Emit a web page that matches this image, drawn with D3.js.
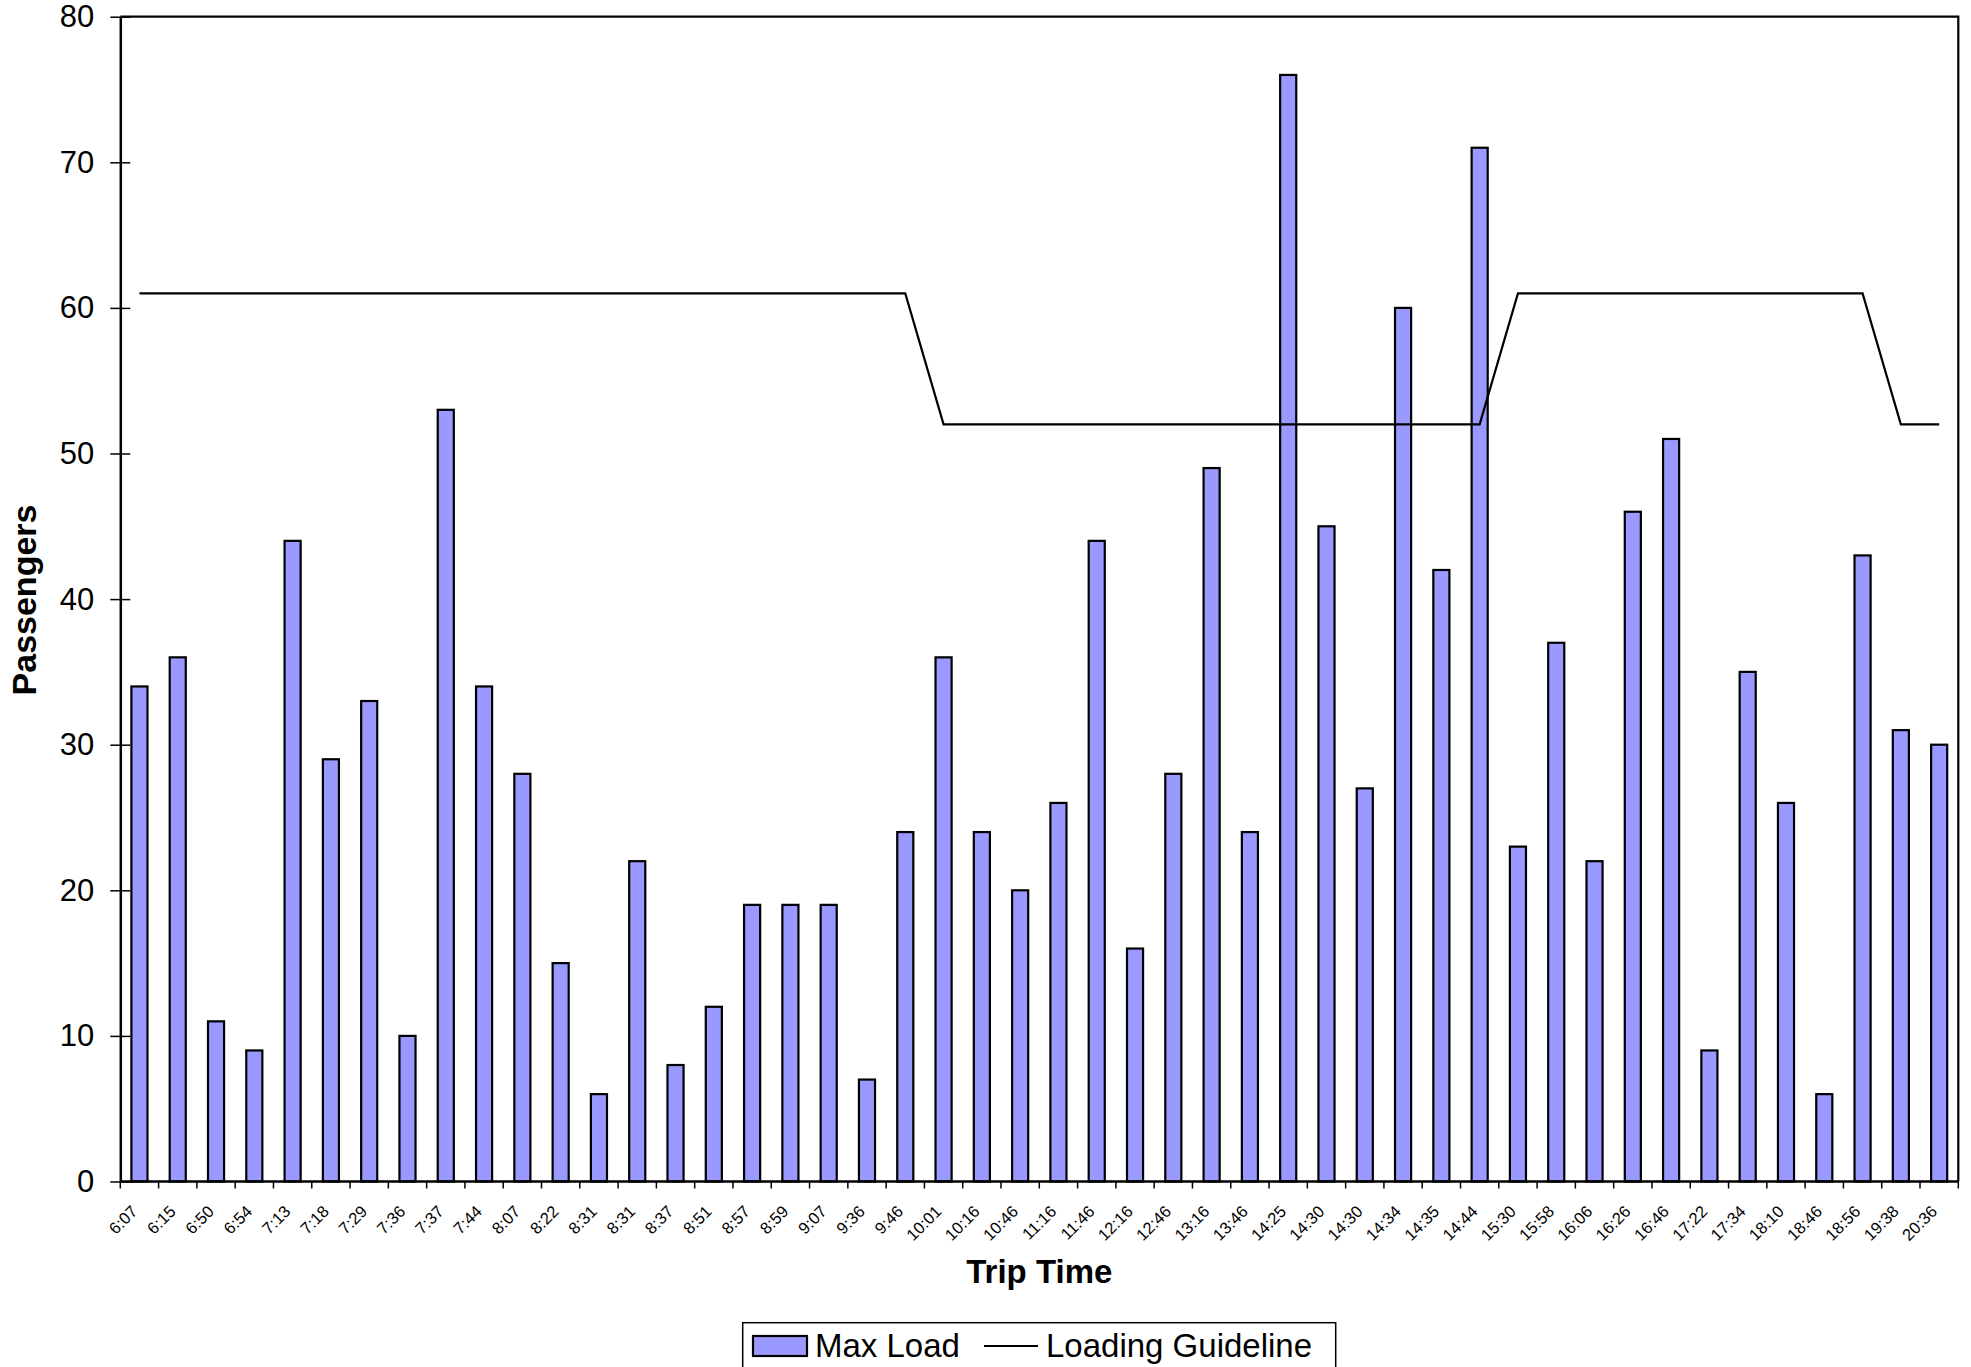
<!DOCTYPE html>
<html>
<head>
<meta charset="utf-8">
<script src="https://cdn.jsdelivr.net/npm/d3@7"></script>
<style>
  html, body { margin: 0; padding: 0; background: #fff; }
  svg { display: block; }
  text { font-family: "Liberation Sans", Arial, sans-serif; fill: #000; }
</style>
</head>
<body>
<svg id="chart" width="1971" height="1367"></svg>
<script>
const categories = ["6:07","6:15","6:50","6:54","7:13","7:18","7:29","7:36","7:37","7:44",
  "8:07","8:22","8:31","8:31","8:37","8:51","8:57","8:59","9:07","9:36",
  "9:46","10:01","10:16","10:46","11:16","11:46","12:16","12:46","13:16","13:46",
  "14:25","14:30","14:30","14:34","14:35","14:44","15:30","15:58","16:06","16:26",
  "16:46","17:22","17:34","18:10","18:46","18:56","19:38","20:36"];
const maxLoad = [34,36,11,9,44,29,33,10,53,34,
  28,15,6,22,8,12,19,19,19,7,
  24,36,24,20,26,44,16,28,49,24,
  76,45,27,60,42,71,23,37,22,46,
  51,9,35,26,6,43,31,30];
const loadingGuideline = [61,61,61,61,61,61,61,61,61,61,
  61,61,61,61,61,61,61,61,61,61,
  61,52,52,52,52,52,52,52,52,52,
  52,52,52,52,52,52,61,61,61,61,
  61,61,61,61,61,61,52,52];
const yTicks = [0,10,20,30,40,50,60,70,80];
const seriesNames = ["Max Load", "Loading Guideline"];
const xTitle = "Trip Time";
const yTitle = "Passengers";

const svg = d3.select("#chart");
const m = { left: 120.3, right: 1958.3, top: 16.7, bottom: 1181.5 };

const x = d3.scaleBand().domain(d3.range(categories.length)).range([m.left, m.right]).padding(0);
const y = d3.scaleLinear().domain([0, 80]).range([m.bottom, m.top]);
const bw = x.bandwidth();

// plot frame (top & right)
svg.append("path")
  .attr("d", `M${m.left},${m.top}H${m.right}V${m.bottom}`)
  .attr("fill", "none").attr("stroke", "#000").attr("stroke-width", 2.2);

// bars
svg.append("g").selectAll("rect").data(maxLoad).join("rect")
  .attr("x", (d, i) => x(i) + bw * 0.29)
  .attr("width", bw * 0.42)
  .attr("y", d => y(d))
  .attr("height", d => y(0) - y(d))
  .attr("fill", "#9999FF")
  .attr("stroke", "#000")
  .attr("stroke-width", 2.2);

// guideline
const line = d3.line().x((d, i) => x(i) + bw / 2).y(d => y(d));
svg.append("path").datum(loadingGuideline)
  .attr("d", line)
  .attr("fill", "none").attr("stroke", "#000").attr("stroke-width", 2.2);

// y axis
const yAxis = d3.axisLeft(y).tickValues(yTicks).tickSizeInner(10).tickSizeOuter(0).tickPadding(16);
const yg = svg.append("g").attr("transform", `translate(${m.left},0)`).call(yAxis);
yg.select(".domain").attr("stroke", "#000").attr("stroke-width", 2.5);
yg.selectAll(".tick line").attr("x2", 10).attr("x1", -10).attr("stroke", "#000").attr("stroke-width", 1.5);
yg.selectAll(".tick text").attr("font-size", 31).attr("font-family", "Liberation Sans, Arial, sans-serif").attr("fill", "#000");

// x axis
const xg = svg.append("g").attr("transform", `translate(0,${m.bottom})`);
xg.append("line").attr("x1", m.left).attr("x2", m.right).attr("y1", 0).attr("y2", 0)
  .attr("stroke", "#000").attr("stroke-width", 2.5);
const bounds = d3.range(categories.length + 1).map(i => i < categories.length ? x(i) : m.right);
xg.selectAll("line.tk").data(bounds).join("line").attr("class", "tk")
  .attr("x1", d => d).attr("x2", d => d).attr("y1", 0).attr("y2", 7)
  .attr("stroke", "#000").attr("stroke-width", 1.5);
xg.selectAll("text.lbl").data(categories).join("text").attr("class", "lbl")
  .attr("transform", (d, i) => `translate(${x(i) + bw / 2 - 1},${31}) rotate(-45)`)
  .attr("text-anchor", "end")
  .attr("font-size", 16.5)
  .text(d => d);

// axis titles
svg.append("text").attr("x", (m.left + m.right) / 2).attr("y", 1283)
  .attr("text-anchor", "middle").attr("font-weight", "bold").attr("font-size", 33)
  .text(xTitle);
svg.append("text").attr("transform", `translate(36,600) rotate(-90)`)
  .attr("text-anchor", "middle").attr("font-weight", "bold").attr("font-size", 34)
  .text(yTitle);

// legend
const lg = svg.append("g");
lg.append("rect").attr("x", 742.7).attr("y", 1322.7).attr("width", 593).attr("height", 60)
  .attr("fill", "#fff").attr("stroke", "#000").attr("stroke-width", 1.5);
lg.append("rect").attr("x", 753).attr("y", 1336).attr("width", 54).attr("height", 20)
  .attr("fill", "#9999FF").attr("stroke", "#000").attr("stroke-width", 2.2);
lg.append("text").attr("x", 815).attr("y", 1357).attr("font-size", 33).text(seriesNames[0]);
lg.append("line").attr("x1", 984).attr("x2", 1038).attr("y1", 1346).attr("y2", 1346)
  .attr("stroke", "#000").attr("stroke-width", 2.2);
lg.append("text").attr("x", 1046).attr("y", 1357).attr("font-size", 33).text(seriesNames[1]);
</script>
</body>
</html>
